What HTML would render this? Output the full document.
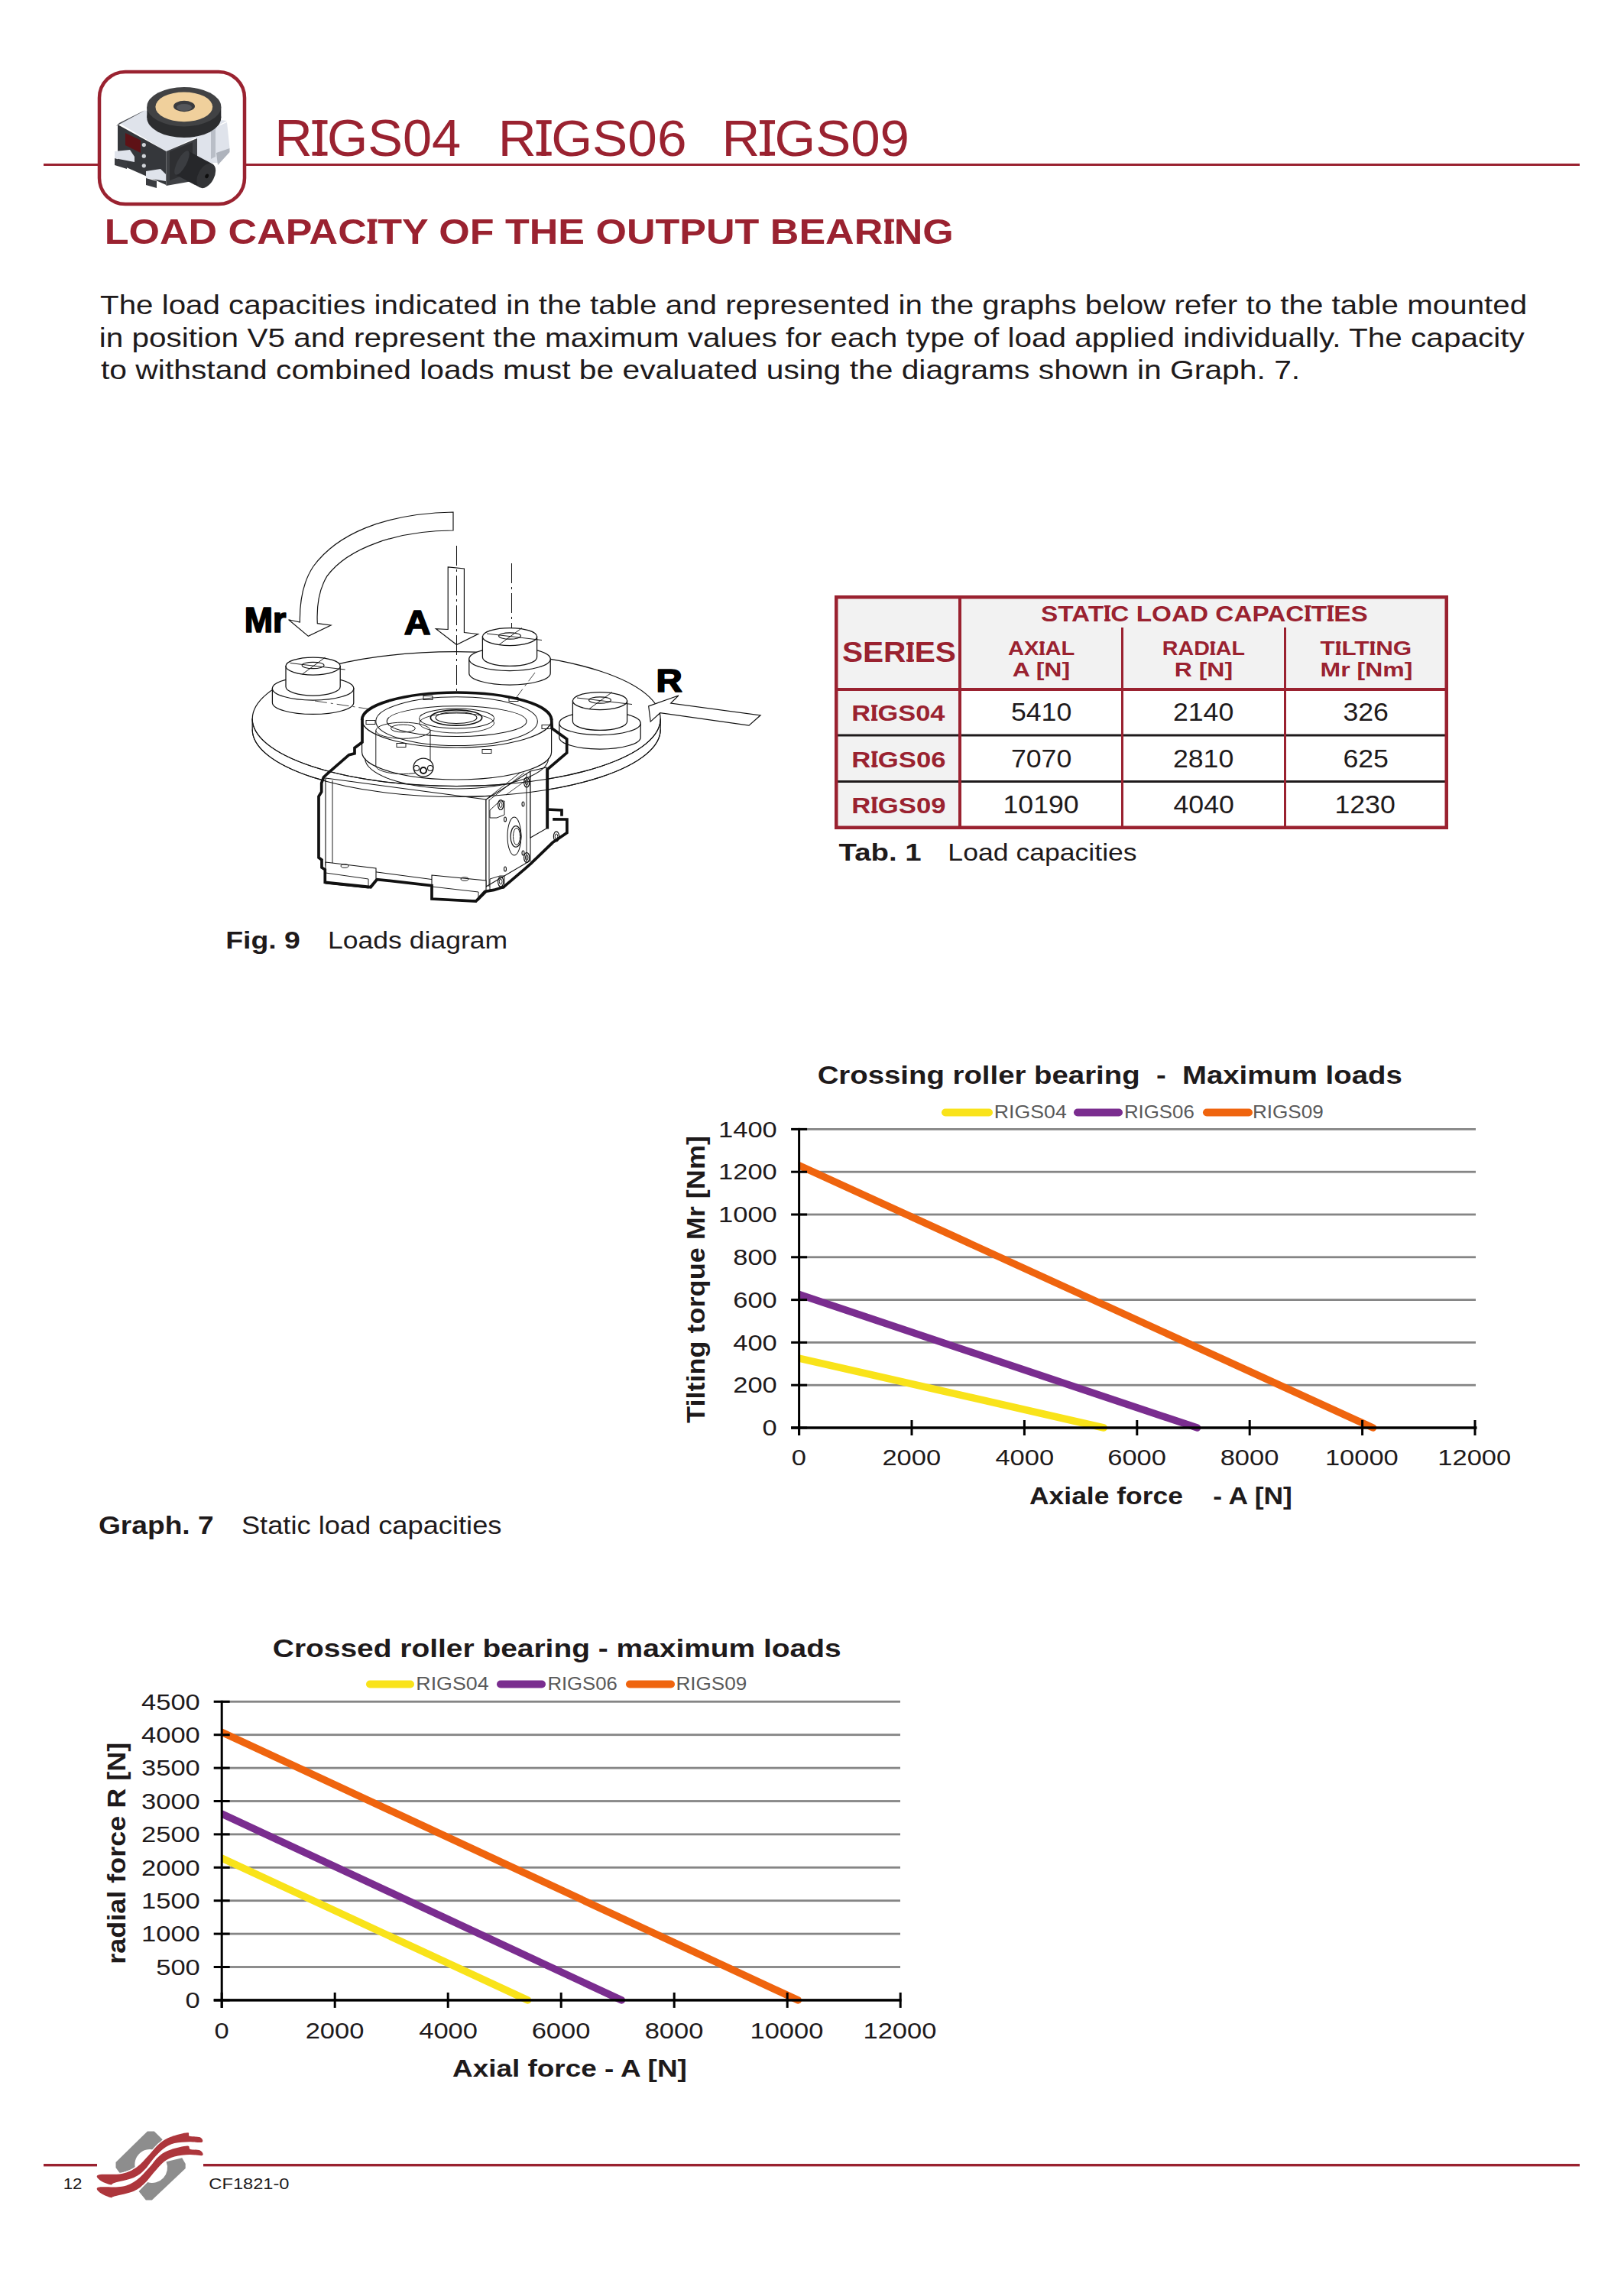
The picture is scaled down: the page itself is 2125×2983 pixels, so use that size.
<!DOCTYPE html>
<html><head><meta charset="utf-8"><title>RIGS04 RIGS06 RIGS09 - Load capacity of the output bearing</title>
<style>
html,body{margin:0;padding:0;background:#fff;}
body{width:2125px;height:2983px;overflow:hidden;position:relative;font-family:"Liberation Sans",sans-serif;}
svg{position:absolute;left:0;top:0;display:block;}
text{font-family:"Liberation Sans",sans-serif;}
</style></head>
<body>
<svg width="2125" height="2983" viewBox="0 0 2125 2983">
<rect x="57" y="214" width="2010" height="3" fill="#9a2230"/>
<rect x="130" y="94" width="190" height="173" rx="34" ry="34" fill="#fff" stroke="#9a2230" stroke-width="4.5"/>
<g id="prod">
<polygon points="256.0,178.0 297.0,160.0 300.5,194.0 285.0,213.0 256.0,213.0" fill="#dfe3eb"/>
<polygon points="276.0,170.0 282.0,168.0 282.0,205.0 276.0,208.0" fill="#b9bec7"/>
<polygon points="283.0,200.0 300.5,194.0 300.5,199.0 285.0,216.0" fill="#aeb3bc"/>
<polygon points="156.0,161.0 189.0,144.5 297.0,158.0 256.0,180.0 217.5,198.0" fill="#dfe3eb"/>
<polygon points="152.0,165.0 185.0,147.0 189.0,144.5 156.0,161.0" fill="#4a4c50"/>
<polygon points="154.0,163.0 217.5,198.0 217.5,242.0 154.0,214.0" fill="#35373b"/>
<polygon points="164.0,174.0 184.0,183.5 184.0,200.0 164.0,190.0" fill="#5e1216"/>
<circle cx="188.3" cy="189.6" r="2.6" fill="#d0d3d8"/>
<circle cx="188.3" cy="204.2" r="2.6" fill="#d0d3d8"/>
<circle cx="188.3" cy="216.8" r="2.6" fill="#d0d3d8"/>
<polygon points="150.0,198.0 170.0,196.0 176.0,205.0 176.0,212.0 150.0,207.0" fill="#dfe3eb"/>
<polygon points="150.0,207.0 166.0,212.0 166.0,221.0 150.0,216.0" fill="#3a3c40"/>
<polygon points="191.0,224.0 210.0,221.0 217.0,228.0 217.0,237.0 191.0,233.0" fill="#dfe3eb"/>
<polygon points="191.0,233.0 205.0,237.0 205.0,246.0 191.0,242.0" fill="#3a3c40"/>
<polygon points="217.5,198.0 258.0,181.0 258.0,236.0 217.5,243.0" fill="#3f4145"/>
<ellipse cx="240.8" cy="154" rx="48.5" ry="26" fill="#2c2d2f"/>
<rect x="192.3" y="139.7" width="97" height="14.3" fill="#2c2d2f"/>
<ellipse cx="240.8" cy="139.7" rx="48.5" ry="25.7" fill="#414244"/>
<ellipse cx="240.8" cy="139.8" rx="37.4" ry="19.4" fill="#f0d09c"/>
<ellipse cx="241" cy="139" rx="14" ry="7.2" fill="#3a3b3e"/>
<ellipse cx="241" cy="140.5" rx="10" ry="4.6" fill="#55575b"/>
<rect x="222" y="200" width="30" height="38" fill="#2e2f32" transform="skewY(-22) translate(0,88)"/>
<g transform="translate(238,213) rotate(28)"><rect x="0" y="-17.5" width="36" height="35" fill="#26272a"/><ellipse cx="36" cy="0" rx="10.5" ry="17.5" fill="#333437"/><ellipse cx="37" cy="0" rx="2.2" ry="3" fill="#0e0e0e"/><ellipse cx="0" cy="0" rx="6" ry="17.5" fill="#3b3d41"/></g>
</g>
<rect x="1092" y="779" width="803" height="306" fill="#fff"/>
<rect x="1092" y="779" width="803" height="123" fill="#f2f2f2"/>
<rect x="1092" y="779" width="164" height="306" fill="#f2f2f2"/>
<rect x="1092" y="960.5" width="803" height="3" fill="#1e1a1b"/>
<rect x="1092" y="1021" width="803" height="3" fill="#1e1a1b"/>
<rect x="1092" y="900" width="803" height="4" fill="#9a2230"/>
<rect x="1254" y="779" width="4" height="306" fill="#9a2230"/>
<rect x="1467" y="821" width="3" height="264" fill="#9a2230"/>
<rect x="1680" y="821" width="3" height="264" fill="#9a2230"/>
<rect x="1094.25" y="781.25" width="798.5" height="301.5" fill="none" stroke="#9a2230" stroke-width="4.5"/>
<rect x="1045.6" y="1810.80" width="885.40" height="2.8" fill="#858585"/>
<rect x="1045.6" y="1755.00" width="885.40" height="2.8" fill="#858585"/>
<rect x="1045.6" y="1699.20" width="885.40" height="2.8" fill="#858585"/>
<rect x="1045.6" y="1643.40" width="885.40" height="2.8" fill="#858585"/>
<rect x="1045.6" y="1587.60" width="885.40" height="2.8" fill="#858585"/>
<rect x="1045.6" y="1531.80" width="885.40" height="2.8" fill="#858585"/>
<rect x="1045.6" y="1476.00" width="885.40" height="2.8" fill="#858585"/>
<clipPath id="clip1045"><rect x="1044.60" y="1457.40" width="905.40" height="430.60"/></clipPath>
<line x1="1045.60" y1="1777.05" x2="1444.32" y2="1868.00" stroke="#f9e31a" stroke-width="9.5" stroke-linecap="round" clip-path="url(#clip1045)"/>
<line x1="1045.60" y1="1693.62" x2="1566.66" y2="1868.00" stroke="#7a2d8f" stroke-width="9.5" stroke-linecap="round" clip-path="url(#clip1045)"/>
<line x1="1045.60" y1="1524.83" x2="1796.60" y2="1868.00" stroke="#ef640e" stroke-width="9.5" stroke-linecap="round" clip-path="url(#clip1045)"/>
<rect x="1044.10" y="1475.90" width="3" height="402.10" fill="#000"/>
<rect x="1035.10" y="1866.25" width="897.40" height="3.5" fill="#000"/>
<rect x="1035.10" y="1866.50" width="21" height="3" fill="#000"/>
<rect x="1035.10" y="1810.70" width="21" height="3" fill="#000"/>
<rect x="1035.10" y="1754.90" width="21" height="3" fill="#000"/>
<rect x="1035.10" y="1699.10" width="21" height="3" fill="#000"/>
<rect x="1035.10" y="1643.30" width="21" height="3" fill="#000"/>
<rect x="1035.10" y="1587.50" width="21" height="3" fill="#000"/>
<rect x="1035.10" y="1531.70" width="21" height="3" fill="#000"/>
<rect x="1035.10" y="1475.90" width="21" height="3" fill="#000"/>
<rect x="1044.10" y="1858.00" width="3" height="20" fill="#000"/>
<rect x="1191.50" y="1858.00" width="3" height="20" fill="#000"/>
<rect x="1338.90" y="1858.00" width="3" height="20" fill="#000"/>
<rect x="1486.30" y="1858.00" width="3" height="20" fill="#000"/>
<rect x="1633.70" y="1858.00" width="3" height="20" fill="#000"/>
<rect x="1781.10" y="1858.00" width="3" height="20" fill="#000"/>
<rect x="1928.50" y="1858.00" width="3" height="20" fill="#000"/>
<line x1="1237" y1="1455.5" x2="1294" y2="1455.5" stroke="#f9e31a" stroke-width="10" stroke-linecap="round"/>
<line x1="1410" y1="1455.5" x2="1464" y2="1455.5" stroke="#7a2d8f" stroke-width="10" stroke-linecap="round"/>
<line x1="1579" y1="1455.5" x2="1634" y2="1455.5" stroke="#ef640e" stroke-width="10" stroke-linecap="round"/>
<rect x="290.2" y="2572.10" width="887.80" height="2.8" fill="#858585"/>
<rect x="290.2" y="2528.70" width="887.80" height="2.8" fill="#858585"/>
<rect x="290.2" y="2485.30" width="887.80" height="2.8" fill="#858585"/>
<rect x="290.2" y="2441.90" width="887.80" height="2.8" fill="#858585"/>
<rect x="290.2" y="2398.50" width="887.80" height="2.8" fill="#858585"/>
<rect x="290.2" y="2355.10" width="887.80" height="2.8" fill="#858585"/>
<rect x="290.2" y="2311.70" width="887.80" height="2.8" fill="#858585"/>
<rect x="290.2" y="2268.30" width="887.80" height="2.8" fill="#858585"/>
<rect x="290.2" y="2224.90" width="887.80" height="2.8" fill="#858585"/>
<clipPath id="clip290"><rect x="289.20" y="2206.30" width="907.80" height="430.60"/></clipPath>
<line x1="290.20" y1="2431.15" x2="690.54" y2="2616.90" stroke="#f9e31a" stroke-width="9.5" stroke-linecap="round" clip-path="url(#clip290)"/>
<line x1="290.20" y1="2372.99" x2="813.38" y2="2616.90" stroke="#7a2d8f" stroke-width="9.5" stroke-linecap="round" clip-path="url(#clip290)"/>
<line x1="290.20" y1="2266.23" x2="1044.26" y2="2616.90" stroke="#ef640e" stroke-width="9.5" stroke-linecap="round" clip-path="url(#clip290)"/>
<rect x="288.70" y="2224.80" width="3" height="402.10" fill="#000"/>
<rect x="279.70" y="2615.15" width="899.80" height="3.5" fill="#000"/>
<rect x="279.70" y="2615.40" width="21" height="3" fill="#000"/>
<rect x="279.70" y="2572.00" width="21" height="3" fill="#000"/>
<rect x="279.70" y="2528.60" width="21" height="3" fill="#000"/>
<rect x="279.70" y="2485.20" width="21" height="3" fill="#000"/>
<rect x="279.70" y="2441.80" width="21" height="3" fill="#000"/>
<rect x="279.70" y="2398.40" width="21" height="3" fill="#000"/>
<rect x="279.70" y="2355.00" width="21" height="3" fill="#000"/>
<rect x="279.70" y="2311.60" width="21" height="3" fill="#000"/>
<rect x="279.70" y="2268.20" width="21" height="3" fill="#000"/>
<rect x="279.70" y="2224.80" width="21" height="3" fill="#000"/>
<rect x="288.70" y="2606.90" width="3" height="20" fill="#000"/>
<rect x="436.70" y="2606.90" width="3" height="20" fill="#000"/>
<rect x="584.70" y="2606.90" width="3" height="20" fill="#000"/>
<rect x="732.70" y="2606.90" width="3" height="20" fill="#000"/>
<rect x="880.70" y="2606.90" width="3" height="20" fill="#000"/>
<rect x="1028.70" y="2606.90" width="3" height="20" fill="#000"/>
<rect x="1176.70" y="2606.90" width="3" height="20" fill="#000"/>
<line x1="484" y1="2203.5" x2="537" y2="2203.5" stroke="#f9e31a" stroke-width="10" stroke-linecap="round"/>
<line x1="655" y1="2203.5" x2="709" y2="2203.5" stroke="#7a2d8f" stroke-width="10" stroke-linecap="round"/>
<line x1="824" y1="2203.5" x2="878" y2="2203.5" stroke="#ef640e" stroke-width="10" stroke-linecap="round"/>
<rect x="57" y="2831" width="70" height="3.4" fill="#9a2230"/>
<rect x="266" y="2831" width="1801" height="3.4" fill="#9a2230"/>
<g id="logo">
<rect x="128" y="2786" width="138" height="94" fill="#fff"/>
<path d="M192.9,2788.4 L201.8,2788.4 L212.6,2799.2 L201,2812.5 A20,20 0 0 0 177,2837 L157,2843.5 L151.5,2836 L151.5,2829 Z" fill="#8d8d8d"/>
<path d="M238.2,2823.3 L242.7,2831 L242.7,2837 L198.8,2878.5 L190.9,2878.5 L181.6,2867 L193,2855 A20,20 0 0 0 217.5,2828.3 Z" fill="#8d8d8d"/>
<path d="M128.9,2845.5 C133.7,2844.1 151.0,2845.7 159.4,2844.0 C167.8,2842.3 173.2,2839.3 179.1,2835.2 C185.0,2831.1 190.0,2824.5 194.9,2819.4 C199.8,2814.3 203.9,2808.5 208.7,2804.6 C213.4,2800.7 217.3,2798.2 223.4,2795.8 C229.5,2793.4 241.0,2790.5 245.1,2790.3 C249.2,2790.1 245.3,2793.8 248.1,2794.8 C250.9,2795.8 259.2,2795.0 261.9,2796.3 C264.6,2797.6 266.6,2801.7 264.3,2802.7 C262.0,2803.7 254.1,2802.0 248.1,2802.2 C242.1,2802.4 234.2,2802.5 228.4,2804.1 C222.7,2805.7 218.2,2808.1 213.6,2811.5 C209.0,2814.9 204.9,2819.7 200.8,2824.3 C196.7,2828.9 193.3,2835.0 189.0,2839.1 C184.7,2843.2 181.8,2846.2 175.2,2849.0 C168.6,2851.8 154.7,2854.3 149.6,2855.9 C144.5,2857.5 147.7,2858.9 144.6,2858.3 C141.5,2857.7 133.4,2854.5 130.8,2852.4 C128.2,2850.3 124.1,2846.9 128.9,2845.5 Z" fill="#fff" stroke="#fff" stroke-width="3" stroke-linejoin="round"/>
<path d="M128.9,2845.5 C133.7,2844.1 151.0,2845.7 159.4,2844.0 C167.8,2842.3 173.2,2839.3 179.1,2835.2 C185.0,2831.1 190.0,2824.5 194.9,2819.4 C199.8,2814.3 203.9,2808.5 208.7,2804.6 C213.4,2800.7 217.3,2798.2 223.4,2795.8 C229.5,2793.4 241.0,2790.5 245.1,2790.3 C249.2,2790.1 245.3,2793.8 248.1,2794.8 C250.9,2795.8 259.2,2795.0 261.9,2796.3 C264.6,2797.6 266.6,2801.7 264.3,2802.7 C262.0,2803.7 254.1,2802.0 248.1,2802.2 C242.1,2802.4 234.2,2802.5 228.4,2804.1 C222.7,2805.7 218.2,2808.1 213.6,2811.5 C209.0,2814.9 204.9,2819.7 200.8,2824.3 C196.7,2828.9 193.3,2835.0 189.0,2839.1 C184.7,2843.2 181.8,2846.2 175.2,2849.0 C168.6,2851.8 154.7,2854.3 149.6,2855.9 C144.5,2857.5 147.7,2858.9 144.6,2858.3 C141.5,2857.7 133.4,2854.5 130.8,2852.4 C128.2,2850.3 124.1,2846.9 128.9,2845.5 Z" fill="#ad363c"/>
<path d="M128.9,2861.8 C133.7,2860.5 151.0,2862.5 159.4,2860.8 C167.8,2859.2 173.2,2856.0 179.1,2851.9 C185.0,2847.8 190.0,2841.4 194.9,2836.2 C199.8,2830.9 203.9,2824.3 208.7,2820.4 C213.4,2816.5 217.3,2814.6 223.4,2812.5 C229.5,2810.4 240.8,2807.7 245.1,2807.6 C249.4,2807.5 246.3,2811.0 249.1,2812.0 C251.9,2813.0 259.3,2812.2 261.9,2813.5 C264.5,2814.8 267.1,2819.0 264.8,2819.9 C262.5,2820.8 254.2,2818.7 248.1,2818.9 C242.0,2819.2 234.0,2819.8 228.4,2821.4 C222.8,2823.0 219.2,2824.7 214.6,2828.3 C210.0,2831.9 205.1,2838.2 200.8,2843.0 C196.5,2847.8 193.3,2852.9 189.0,2856.8 C184.7,2860.8 181.8,2863.9 175.2,2866.7 C168.6,2869.5 154.7,2872.2 149.6,2873.6 C144.5,2875.0 147.7,2875.9 144.6,2875.1 C141.5,2874.3 133.4,2870.9 130.8,2868.7 C128.2,2866.5 124.1,2863.1 128.9,2861.8 Z" fill="#fff" stroke="#fff" stroke-width="3" stroke-linejoin="round"/>
<path d="M128.9,2861.8 C133.7,2860.5 151.0,2862.5 159.4,2860.8 C167.8,2859.2 173.2,2856.0 179.1,2851.9 C185.0,2847.8 190.0,2841.4 194.9,2836.2 C199.8,2830.9 203.9,2824.3 208.7,2820.4 C213.4,2816.5 217.3,2814.6 223.4,2812.5 C229.5,2810.4 240.8,2807.7 245.1,2807.6 C249.4,2807.5 246.3,2811.0 249.1,2812.0 C251.9,2813.0 259.3,2812.2 261.9,2813.5 C264.5,2814.8 267.1,2819.0 264.8,2819.9 C262.5,2820.8 254.2,2818.7 248.1,2818.9 C242.0,2819.2 234.0,2819.8 228.4,2821.4 C222.8,2823.0 219.2,2824.7 214.6,2828.3 C210.0,2831.9 205.1,2838.2 200.8,2843.0 C196.5,2847.8 193.3,2852.9 189.0,2856.8 C184.7,2860.8 181.8,2863.9 175.2,2866.7 C168.6,2869.5 154.7,2872.2 149.6,2873.6 C144.5,2875.0 147.7,2875.9 144.6,2875.1 C141.5,2874.3 133.4,2870.9 130.8,2868.7 C128.2,2866.5 124.1,2863.1 128.9,2861.8 Z" fill="#ad363c"/>
</g>
<g id="fig9" fill="none" stroke-linecap="butt">
<path d="M330.20000000000005,940.5 L330.20000000000005,954.5 A267,88 0 0 0 864.2,954.5 L864.2,940.5 Z" fill="#fff" stroke="#111" stroke-width="1.25"/>
<ellipse cx="597.2" cy="940.5" rx="267.0" ry="88.0" fill="#fff" stroke="#111" stroke-width="1.25"/>
<path d="M356.4,900.7 L356.4,919.2 A53.2,15.3 0 0 0 462.8,919.2 L462.8,900.7 Z" fill="#fff" stroke="#111" stroke-width="1.25"/><ellipse cx="409.6" cy="900.7" rx="53.2" ry="15.3" fill="#fff" stroke="#111" stroke-width="1.25"/><path d="M374.0,871.5 L374.0,898.5 A35.6,11.5 0 0 0 445.2,898.5 L445.2,871.5 Z" fill="#fff" stroke="#111" stroke-width="1.25"/><ellipse cx="409.6" cy="871.5" rx="35.6" ry="11.5" fill="#fff" stroke="#111" stroke-width="1.25"/><ellipse cx="409.6" cy="870.5" rx="14.4" ry="4.2" fill="none" stroke="#111" stroke-width="1.17"/><line x1="379.6" y1="867.5" x2="451.6" y2="876.0" stroke="#111" stroke-width="0.94"/><line x1="395.6" y1="882.0" x2="425.6" y2="860.0" stroke="#111" stroke-width="0.94"/>
<path d="M613.8,862.2 L613.8,880.7 A53.2,15.3 0 0 0 720.2,880.7 L720.2,862.2 Z" fill="#fff" stroke="#111" stroke-width="1.25"/><ellipse cx="667.0" cy="862.2" rx="53.2" ry="15.3" fill="#fff" stroke="#111" stroke-width="1.25"/><path d="M631.4,833.0 L631.4,860.0 A35.6,11.5 0 0 0 702.6,860.0 L702.6,833.0 Z" fill="#fff" stroke="#111" stroke-width="1.25"/><ellipse cx="667.0" cy="833.0" rx="35.6" ry="11.5" fill="#fff" stroke="#111" stroke-width="1.25"/><ellipse cx="667.0" cy="832.0" rx="14.4" ry="4.2" fill="none" stroke="#111" stroke-width="1.17"/><line x1="637.0" y1="829.0" x2="709.0" y2="837.5" stroke="#111" stroke-width="0.94"/><line x1="653.0" y1="843.5" x2="683.0" y2="821.5" stroke="#111" stroke-width="0.94"/>
<path d="M731.8,946.2 L731.8,964.7 A53.2,15.3 0 0 0 838.2,964.7 L838.2,946.2 Z" fill="#fff" stroke="#111" stroke-width="1.25"/><ellipse cx="785.0" cy="946.2" rx="53.2" ry="15.3" fill="#fff" stroke="#111" stroke-width="1.25"/><path d="M749.4,917.0 L749.4,944.0 A35.6,11.5 0 0 0 820.6,944.0 L820.6,917.0 Z" fill="#fff" stroke="#111" stroke-width="1.25"/><ellipse cx="785.0" cy="917.0" rx="35.6" ry="11.5" fill="#fff" stroke="#111" stroke-width="1.25"/><ellipse cx="785.0" cy="916.0" rx="14.4" ry="4.2" fill="none" stroke="#111" stroke-width="1.17"/><line x1="755.0" y1="913.0" x2="827.0" y2="921.5" stroke="#111" stroke-width="0.94"/><line x1="771.0" y1="927.5" x2="801.0" y2="905.5" stroke="#111" stroke-width="0.94"/>
<line x1="597.5" y1="714.0" x2="597.5" y2="942.0" stroke="#111" stroke-width="1.01" stroke-dasharray="26,5,3,5"/>
<line x1="669.5" y1="737.0" x2="669.5" y2="822.0" stroke="#111" stroke-width="1.01" stroke-dasharray="26,5,3,5"/>
<line x1="700.0" y1="880.0" x2="610.0" y2="1000.0" stroke="#111" stroke-width="0.78" stroke-dasharray="14,5,3,5"/>
<line x1="412.0" y1="917.0" x2="492.0" y2="929.0" stroke="#111" stroke-width="0.78" stroke-dasharray="16,5,3,5"/>
<path d="M426.0,1018.0 L636.0,1046.0 L636.0,1160.0 L426.0,1132.0 Z" fill="#fff" stroke="#111" stroke-width="1.09" stroke-linejoin="miter"/>
<path d="M636.0,1046.0 L694.0,1009.0 L694.0,1126.0 L636.0,1160.0 Z" fill="#fff" stroke="#111" stroke-width="1.09" stroke-linejoin="miter"/>
<path d="M694.0,1009.0 L715.0,1004.0 L715.0,1084.0 L694.0,1096.0 Z" fill="#fff" stroke="#111" stroke-width="1.09" stroke-linejoin="miter"/>
<line x1="640.0" y1="1046.0" x2="640.0" y2="1160.0" stroke="#111" stroke-width="0.94"/>
<line x1="689.0" y1="1012.0" x2="689.0" y2="1128.0" stroke="#111" stroke-width="0.94"/>
<line x1="435.0" y1="1021.0" x2="435.0" y2="1133.0" stroke="#111" stroke-width="0.94"/>
<path d="M426.0,1128.0 L492.0,1136.0 L492.0,1150.0 L482.0,1162.0 L426.0,1156.0 Z" fill="#fff" stroke="#111" stroke-width="1.09" stroke-linejoin="miter"/>
<line x1="426.0" y1="1142.0" x2="482.0" y2="1150.0" stroke="#111" stroke-width="0.94"/>
<line x1="482.0" y1="1150.0" x2="482.0" y2="1162.0" stroke="#111" stroke-width="0.94"/>
<path d="M565.0,1145.0 L636.0,1152.0 L636.0,1168.0 L626.0,1178.0 L565.0,1176.0 Z" fill="#fff" stroke="#111" stroke-width="1.09" stroke-linejoin="miter"/>
<line x1="565.0" y1="1160.0" x2="626.0" y2="1167.0" stroke="#111" stroke-width="0.94"/>
<line x1="626.0" y1="1167.0" x2="626.0" y2="1178.0" stroke="#111" stroke-width="0.94"/>
<ellipse cx="451.0" cy="1133.0" rx="5.0" ry="2.2" fill="none" stroke="#111" stroke-width="0.94"/>
<ellipse cx="608.0" cy="1150.0" rx="5.0" ry="2.2" fill="none" stroke="#111" stroke-width="0.94"/>
<path d="M716.3,1059.0 L735.0,1060.0 L735.0,1067.8" fill="none" stroke="#111" stroke-width="3.70" stroke-linejoin="miter"/>
<ellipse cx="672.9" cy="1094.0" rx="8.9" ry="25.0" fill="none" stroke="#111" stroke-width="1.01"/>
<ellipse cx="675.0" cy="1094.4" rx="6.9" ry="13.8" fill="none" stroke="#111" stroke-width="1.25"/>
<ellipse cx="676.0" cy="1094.4" rx="4.5" ry="11.0" fill="none" stroke="#111" stroke-width="0.94"/>
<ellipse cx="655.2" cy="1053.0" rx="3.6" ry="6.5" fill="none" stroke="#111" stroke-width="1.17"/>
<ellipse cx="655.2" cy="1053.0" rx="1.8" ry="3.5" fill="none" stroke="#111" stroke-width="0.94"/>
<ellipse cx="689.2" cy="1023.5" rx="3.6" ry="6.5" fill="none" stroke="#111" stroke-width="1.17"/>
<ellipse cx="689.2" cy="1023.5" rx="1.8" ry="3.5" fill="none" stroke="#111" stroke-width="0.94"/>
<ellipse cx="689.2" cy="1122.0" rx="3.6" ry="6.5" fill="none" stroke="#111" stroke-width="1.17"/>
<ellipse cx="689.2" cy="1122.0" rx="1.8" ry="3.5" fill="none" stroke="#111" stroke-width="0.94"/>
<ellipse cx="655.2" cy="1153.5" rx="3.6" ry="6.5" fill="none" stroke="#111" stroke-width="1.17"/>
<ellipse cx="655.2" cy="1153.5" rx="1.8" ry="3.5" fill="none" stroke="#111" stroke-width="0.94"/>
<ellipse cx="728.0" cy="1094.4" rx="3.6" ry="6.5" fill="none" stroke="#111" stroke-width="1.17"/>
<ellipse cx="728.0" cy="1094.4" rx="1.8" ry="3.5" fill="none" stroke="#111" stroke-width="0.94"/>
<ellipse cx="684.5" cy="1052.0" rx="1.5" ry="3.0" fill="none" stroke="#111" stroke-width="1.09"/>
<ellipse cx="661.0" cy="1072.0" rx="1.5" ry="3.0" fill="none" stroke="#111" stroke-width="1.09"/>
<ellipse cx="684.5" cy="1116.0" rx="1.5" ry="3.0" fill="none" stroke="#111" stroke-width="1.09"/>
<ellipse cx="661.0" cy="1137.0" rx="1.5" ry="3.0" fill="none" stroke="#111" stroke-width="1.09"/>
<path d="M641.0,1060.0 L654.0,1048.0 L660.0,1048.0 L660.0,1066.0 L650.0,1070.0 L641.0,1070.0 Z" fill="none" stroke="#111" stroke-width="0.94" stroke-linejoin="miter"/>
<path d="M641.0,1150.0 L654.0,1146.0 L660.0,1146.0 L660.0,1162.0 L641.0,1164.0 Z" fill="none" stroke="#111" stroke-width="0.94" stroke-linejoin="miter"/>
<line x1="636.0" y1="1046.0" x2="683.0" y2="1009.0" stroke="#111" stroke-width="0.86"/>
<line x1="640.0" y1="1047.0" x2="686.0" y2="1011.0" stroke="#111" stroke-width="0.86"/>
<line x1="662.0" y1="1040.0" x2="695.0" y2="1016.0" stroke="#111" stroke-width="0.78"/>
<path d="M330.20000000000005,940.5 A267,88 0 0 0 864.2,940.5" fill="none" stroke="#111" stroke-width="1.01"/>
<path d="M330.20000000000005,954.5 A267,88 0 0 0 864.2,954.5" fill="none" stroke="#111" stroke-width="1.01"/>
<path d="M473.6,942 L473.6,984 A124,36 0 0 0 721.6,984 L721.6,942 Z" fill="#fff" stroke="#111" stroke-width="1.17"/>
<ellipse cx="597.6" cy="942.0" rx="124.0" ry="36.0" fill="#fff" stroke="#111" stroke-width="1.17"/>
<ellipse cx="597.6" cy="943.7" rx="105.8" ry="31.9" fill="none" stroke="#111" stroke-width="1.01"/>
<ellipse cx="597.6" cy="943.7" rx="91.4" ry="19.9" fill="none" stroke="#111" stroke-width="1.01"/>
<ellipse cx="597.6" cy="940.0" rx="49.0" ry="13.0" fill="none" stroke="#111" stroke-width="1.01"/>
<ellipse cx="597.6" cy="946.0" rx="49.0" ry="13.0" fill="none" stroke="#111" stroke-width="0.86"/>
<ellipse cx="597.0" cy="939.0" rx="33.7" ry="10.2" fill="none" stroke="#111" stroke-width="1.72"/>
<ellipse cx="597.0" cy="939.0" rx="27.0" ry="7.5" fill="none" stroke="#111" stroke-width="1.09"/>
<path d="M477.6,992 A120,40 0 0 0 717.6,992" stroke="#111" stroke-width="1.01"/>
<path d="M491.8,955.7 L491.8,1002 A35.6,10.6 0 0 0 563,1002 L563,955.7" fill="none" stroke="#111" stroke-width="0.94"/>
<ellipse cx="527.4" cy="955.7" rx="35.6" ry="10.6" fill="none" stroke="#111" stroke-width="0.94"/>
<ellipse cx="527.4" cy="953.0" rx="16.0" ry="5.0" fill="none" stroke="#111" stroke-width="0.94"/>
<ellipse cx="554.0" cy="1004.0" rx="13.0" ry="12.0" fill="#fff" stroke="#111" stroke-width="1.25"/>
<ellipse cx="545.0" cy="1005.0" rx="3.5" ry="3.5" fill="none" stroke="#111" stroke-width="1.09"/>
<ellipse cx="563.0" cy="1005.0" rx="3.5" ry="3.5" fill="none" stroke="#111" stroke-width="1.09"/>
<ellipse cx="554.0" cy="1008.0" rx="4.0" ry="4.0" fill="none" stroke="#111" stroke-width="1.95"/>
<rect x="554" y="910.5" width="12" height="5" fill="none" stroke="#111" stroke-width="0.94"/>
<rect x="666" y="912.5" width="12" height="5" fill="none" stroke="#111" stroke-width="0.94"/>
<rect x="479" y="942.5" width="12" height="5" fill="none" stroke="#111" stroke-width="0.94"/>
<rect x="709" y="948.5" width="12" height="5" fill="none" stroke="#111" stroke-width="0.94"/>
<rect x="519" y="972.5" width="12" height="5" fill="none" stroke="#111" stroke-width="0.94"/>
<rect x="631" y="980.5" width="12" height="5" fill="none" stroke="#111" stroke-width="0.94"/>
<path d="M473.6,942 A124,36 0 0 1 721.6,942" stroke="#111" stroke-width="3.7" fill="none"/>
<path d="M474.0,940.0 L474.0,971.0 L464.0,978.4 L464.0,985.8 L456.6,987.6 L428.0,1012.5 L423.4,1017.0 L420.7,1024.5 L420.7,1036.0 L417.0,1042.0 L417.0,1122.0 L421.0,1125.0 L421.0,1135.0 L425.3,1137.7 L425.3,1154.3 L485.1,1160.7 L493.4,1150.6 L565.0,1158.6 L565.0,1176.0 L622.7,1179.2 L634.5,1166.4 L646.3,1164.4 L659.1,1160.4 L686.7,1136.8 L694.6,1129.9 L723.2,1102.3 L741.9,1089.5 L741.9,1072.0 L723.2,1071.8" fill="none" stroke="#111" stroke-width="3.70" stroke-linejoin="miter"/>
<path d="M721.6,940.0 L722.3,953.0 L741.7,967.0 L741.7,985.0 L716.3,1006.7 L716.3,1084.6" fill="none" stroke="#111" stroke-width="3.70" stroke-linejoin="miter"/>
<path d="M593,670 C500,672 440,700 410,741 C396,762 392,790 392.4,814 L377.6,810.7 L403.4,832.4 L433,818 L415.3,815.7 C414,790 418,770 428,753.6 C455,717 520,694 593,694 Z" fill="#fff" stroke="#111" stroke-width="1.17" stroke-linejoin="miter"/>
<path d="M586.2,741.8 L607.4,744.0 L607.4,827.5 L625.6,829.5 L597.5,843.5 L570.4,822.6 L586.2,823.5 Z" fill="#fff" stroke="#111" stroke-width="1.17" stroke-linejoin="miter"/>
<line x1="597.5" y1="714.0" x2="597.5" y2="843.0" stroke="#111" stroke-width="1.01" stroke-dasharray="26,5,3,5"/>
<path d="M848.7,923.9 L887.8,910.0 L877.7,920.1 L995.1,935.8 L980.0,949.1 L863.8,932.7 L851.2,944.1 Z" fill="#fff" stroke="#111" stroke-width="1.17" stroke-linejoin="miter"/>
</g>
<text font-family="Liberation Sans" font-weight="bold" fill="#000" stroke="#000" stroke-width="1.72" stroke-linejoin="round" transform="translate(319.8,826.5) scale(0.972,1)" font-size="46">Mr</text>
<text font-family="Liberation Sans" font-weight="bold" fill="#000" stroke="#000" stroke-width="1.72" stroke-linejoin="round" transform="translate(528.7,830) scale(1.07,1)" font-size="45">A</text>
<text font-family="Liberation Sans" font-weight="bold" fill="#000" stroke="#000" stroke-width="1.72" stroke-linejoin="round" transform="translate(858.6,904.7) scale(1.129,1)" font-size="42">R</text>
<rect x="408.48" y="157.20" width="20.00" height="5.02" fill="#9a2230"/>
<rect x="408.48" y="198.68" width="20.00" height="5.02" fill="#9a2230"/>
<text transform="translate(359.33,203.70) scale(1.0145,1)" font-size="67.59" fill="#9a2230">RIGS04</text>
<rect x="701.68" y="157.20" width="20.00" height="5.02" fill="#9a2230"/>
<rect x="701.68" y="198.68" width="20.00" height="5.02" fill="#9a2230"/>
<text transform="translate(651.87,203.70) scale(1.0258,1)" font-size="67.59" fill="#9a2230">RIGS06</text>
<rect x="994.03" y="157.20" width="20.00" height="5.02" fill="#9a2230"/>
<rect x="994.03" y="198.68" width="20.00" height="5.02" fill="#9a2230"/>
<text transform="translate(944.49,203.70) scale(1.0210,1)" font-size="67.59" fill="#9a2230">RIGS09</text>
<rect x="480.64" y="286.60" width="12.80" height="3.84" fill="#9a2230"/>
<rect x="480.64" y="314.76" width="12.80" height="3.84" fill="#9a2230"/>
<rect x="1157.09" y="286.60" width="12.80" height="3.84" fill="#9a2230"/>
<rect x="1157.09" y="314.76" width="12.80" height="3.84" fill="#9a2230"/>
<text transform="translate(136.74,318.60) scale(1.1190,1)" font-size="46.51" font-weight="bold" fill="#9a2230">LOAD CAPACITY OF THE OUTPUT BEARING</text>
<text transform="translate(131.00,410.60) scale(1.1201,1)" font-size="36.00" fill="#1e1a1b">The load capacities indicated in the table and represented in the graphs below refer to the table mounted</text>
<text transform="translate(129.75,453.70) scale(1.1254,1)" font-size="36.00" fill="#1e1a1b">in position V5 and represent the maximum values for each type of load applied individually. The capacity</text>
<text transform="translate(132.00,495.60) scale(1.1333,1)" font-size="36.00" fill="#1e1a1b">to withstand combined loads must be evaluated using the diagrams shown in Graph. 7.</text>
<text transform="translate(295.20,1240.90) scale(1.1979,1)" font-size="31.25" font-weight="bold" fill="#1e1a1b">Fig. 9</text>
<text transform="translate(429.02,1240.90) scale(1.1382,1)" font-size="31.25" fill="#1e1a1b">Loads diagram</text>
<text transform="translate(1097.60,1126.00) scale(1.2003,1)" font-size="31.98" font-weight="bold" fill="#1e1a1b">Tab. 1</text>
<text transform="translate(1240.37,1126.00) scale(1.1128,1)" font-size="31.98" fill="#1e1a1b">Load capacities</text>
<text transform="translate(128.89,2007.40) scale(1.1120,1)" font-size="33.43" font-weight="bold" fill="#1e1a1b">Graph. 7</text>
<text transform="translate(315.92,2007.40) scale(1.0847,1)" font-size="33.43" fill="#1e1a1b">Static load capacities</text>
<rect x="1444.91" y="792.00" width="8.28" height="2.48" fill="#9a2230"/>
<rect x="1444.91" y="810.22" width="8.28" height="2.48" fill="#9a2230"/>
<rect x="1707.19" y="792.00" width="8.28" height="2.48" fill="#9a2230"/>
<rect x="1707.19" y="810.22" width="8.28" height="2.48" fill="#9a2230"/>
<rect x="1736.81" y="792.00" width="8.28" height="2.48" fill="#9a2230"/>
<rect x="1736.81" y="810.22" width="8.28" height="2.48" fill="#9a2230"/>
<text transform="translate(1362.00,812.70) scale(1.1080,1)" font-size="30.09" font-weight="bold" fill="#9a2230">STATIC LOAD CAPACITIES</text>
<rect x="1185.99" y="840.60" width="10.00" height="3.00" fill="#9a2230"/>
<rect x="1185.99" y="862.60" width="10.00" height="3.00" fill="#9a2230"/>
<text transform="translate(1101.88,865.60) scale(1.1182,1)" font-size="36.34" font-weight="bold" fill="#9a2230">SERIES</text>
<rect x="1360.07" y="839.70" width="6.88" height="2.06" fill="#9a2230"/>
<rect x="1360.07" y="854.84" width="6.88" height="2.06" fill="#9a2230"/>
<text transform="translate(1319.00,856.90) scale(1.1642,1)" font-size="25.00" font-weight="bold" fill="#9a2230">AXIAL</text>
<rect x="1583.46" y="839.70" width="6.88" height="2.06" fill="#9a2230"/>
<rect x="1583.46" y="854.84" width="6.88" height="2.06" fill="#9a2230"/>
<text transform="translate(1520.85,856.90) scale(1.1453,1)" font-size="25.00" font-weight="bold" fill="#9a2230">RADIAL</text>
<rect x="1747.73" y="839.70" width="6.88" height="2.06" fill="#9a2230"/>
<rect x="1747.73" y="854.84" width="6.88" height="2.06" fill="#9a2230"/>
<rect x="1792.47" y="839.70" width="6.88" height="2.06" fill="#9a2230"/>
<rect x="1792.47" y="854.84" width="6.88" height="2.06" fill="#9a2230"/>
<text transform="translate(1727.60,856.90) scale(1.2555,1)" font-size="25.00" font-weight="bold" fill="#9a2230">TILTING</text>
<text transform="translate(1324.80,885.30) scale(1.2813,1)" font-size="25.00" font-weight="bold" fill="#9a2230">A [N]</text>
<text transform="translate(1536.72,885.30) scale(1.2792,1)" font-size="25.00" font-weight="bold" fill="#9a2230">R [N]</text>
<text transform="translate(1727.62,885.30) scale(1.2789,1)" font-size="25.00" font-weight="bold" fill="#9a2230">Mr [Nm]</text>
<rect x="1139.98" y="922.20" width="8.32" height="2.50" fill="#9a2230"/>
<rect x="1139.98" y="940.50" width="8.32" height="2.50" fill="#9a2230"/>
<text transform="translate(1114.23,943.00) scale(1.1364,1)" font-size="30.23" font-weight="bold" fill="#9a2230">RIGS04</text>
<rect x="1140.24" y="982.70" width="8.32" height="2.50" fill="#9a2230"/>
<rect x="1140.24" y="1001.00" width="8.32" height="2.50" fill="#9a2230"/>
<text transform="translate(1114.21,1003.50) scale(1.1472,1)" font-size="30.23" font-weight="bold" fill="#9a2230">RIGS06</text>
<rect x="1140.24" y="1042.70" width="8.32" height="2.50" fill="#9a2230"/>
<rect x="1140.24" y="1061.00" width="8.32" height="2.50" fill="#9a2230"/>
<text transform="translate(1114.21,1063.50) scale(1.1472,1)" font-size="30.23" font-weight="bold" fill="#9a2230">RIGS09</text>
<text transform="translate(1322.93,943.00) scale(1.0820,1)" font-size="33.00" fill="#1e1a1b">5410</text>
<text transform="translate(1534.93,943.00) scale(1.0820,1)" font-size="33.00" fill="#1e1a1b">2140</text>
<text transform="translate(1757.40,943.00) scale(1.0820,1)" font-size="33.00" fill="#1e1a1b">326</text>
<text transform="translate(1322.93,1003.50) scale(1.0820,1)" font-size="33.00" fill="#1e1a1b">7070</text>
<text transform="translate(1534.93,1003.50) scale(1.0820,1)" font-size="33.00" fill="#1e1a1b">2810</text>
<text transform="translate(1757.40,1003.50) scale(1.0820,1)" font-size="33.00" fill="#1e1a1b">625</text>
<text transform="translate(1312.46,1063.50) scale(1.0820,1)" font-size="33.00" fill="#1e1a1b">10190</text>
<text transform="translate(1535.48,1063.50) scale(1.0820,1)" font-size="33.00" fill="#1e1a1b">4040</text>
<text transform="translate(1746.39,1063.50) scale(1.0820,1)" font-size="33.00" fill="#1e1a1b">1230</text>
<text transform="translate(997.60,1878.20) scale(1.1500,1)" font-size="30.00" fill="#1e1a1b">0</text>
<text transform="translate(959.23,1822.40) scale(1.1500,1)" font-size="30.00" fill="#1e1a1b">200</text>
<text transform="translate(959.23,1766.60) scale(1.1500,1)" font-size="30.00" fill="#1e1a1b">400</text>
<text transform="translate(959.23,1710.80) scale(1.1500,1)" font-size="30.00" fill="#1e1a1b">600</text>
<text transform="translate(959.23,1655.00) scale(1.1500,1)" font-size="30.00" fill="#1e1a1b">800</text>
<text transform="translate(940.04,1599.20) scale(1.1500,1)" font-size="30.00" fill="#1e1a1b">1000</text>
<text transform="translate(940.04,1543.40) scale(1.1500,1)" font-size="30.00" fill="#1e1a1b">1200</text>
<text transform="translate(940.04,1487.60) scale(1.1500,1)" font-size="30.00" fill="#1e1a1b">1400</text>
<text transform="translate(1035.82,1917.00) scale(1.1500,1)" font-size="30.00" fill="#1e1a1b">0</text>
<text transform="translate(1154.44,1917.00) scale(1.1500,1)" font-size="30.00" fill="#1e1a1b">2000</text>
<text transform="translate(1302.42,1917.00) scale(1.1500,1)" font-size="30.00" fill="#1e1a1b">4000</text>
<text transform="translate(1449.24,1917.00) scale(1.1500,1)" font-size="30.00" fill="#1e1a1b">6000</text>
<text transform="translate(1596.64,1917.00) scale(1.1500,1)" font-size="30.00" fill="#1e1a1b">8000</text>
<text transform="translate(1733.88,1917.00) scale(1.1500,1)" font-size="30.00" fill="#1e1a1b">10000</text>
<text transform="translate(1881.28,1917.00) scale(1.1500,1)" font-size="30.00" fill="#1e1a1b">12000</text>
<text transform="translate(1069.63,1418.40) scale(1.1679,1)" font-size="32.85" font-weight="bold" fill="#1e1a1b" style="white-space:pre">Crossing roller bearing  -  Maximum loads</text>
<text transform="translate(1300.84,1463.30) scale(1.0813,1)" font-size="24.71" fill="#595959">RIGS04</text>
<text transform="translate(1470.91,1463.30) scale(1.0460,1)" font-size="24.71" fill="#595959">RIGS06</text>
<text transform="translate(1638.88,1463.30) scale(1.0577,1)" font-size="24.71" fill="#595959">RIGS09</text>
<text transform="translate(1347.00,1968.00) scale(1.1341,1)" font-size="31.25" font-weight="bold" fill="#1e1a1b" style="white-space:pre">Axiale force    - A [N]</text>
<text transform="translate(921.50,1862.00) rotate(-90) scale(1.0998,1)" font-size="32.80" font-weight="bold" fill="#1e1a1b">Tilting torque Mr [Nm]</text>
<text transform="translate(242.60,2627.10) scale(1.1500,1)" font-size="30.00" fill="#1e1a1b">0</text>
<text transform="translate(204.23,2583.70) scale(1.1500,1)" font-size="30.00" fill="#1e1a1b">500</text>
<text transform="translate(185.04,2540.30) scale(1.1500,1)" font-size="30.00" fill="#1e1a1b">1000</text>
<text transform="translate(185.04,2496.90) scale(1.1500,1)" font-size="30.00" fill="#1e1a1b">1500</text>
<text transform="translate(185.04,2453.50) scale(1.1500,1)" font-size="30.00" fill="#1e1a1b">2000</text>
<text transform="translate(185.04,2410.10) scale(1.1500,1)" font-size="30.00" fill="#1e1a1b">2500</text>
<text transform="translate(185.04,2366.70) scale(1.1500,1)" font-size="30.00" fill="#1e1a1b">3000</text>
<text transform="translate(185.04,2323.30) scale(1.1500,1)" font-size="30.00" fill="#1e1a1b">3500</text>
<text transform="translate(185.04,2279.90) scale(1.1500,1)" font-size="30.00" fill="#1e1a1b">4000</text>
<text transform="translate(185.04,2236.50) scale(1.1500,1)" font-size="30.00" fill="#1e1a1b">4500</text>
<text transform="translate(280.43,2666.50) scale(1.1500,1)" font-size="30.00" fill="#1e1a1b">0</text>
<text transform="translate(399.64,2666.50) scale(1.1500,1)" font-size="30.00" fill="#1e1a1b">2000</text>
<text transform="translate(548.22,2666.50) scale(1.1500,1)" font-size="30.00" fill="#1e1a1b">4000</text>
<text transform="translate(695.64,2666.50) scale(1.1500,1)" font-size="30.00" fill="#1e1a1b">6000</text>
<text transform="translate(843.64,2666.50) scale(1.1500,1)" font-size="30.00" fill="#1e1a1b">8000</text>
<text transform="translate(981.48,2666.50) scale(1.1500,1)" font-size="30.00" fill="#1e1a1b">10000</text>
<text transform="translate(1129.48,2666.50) scale(1.1500,1)" font-size="30.00" fill="#1e1a1b">12000</text>
<text transform="translate(356.81,2167.50) scale(1.1850,1)" font-size="32.85" font-weight="bold" fill="#1e1a1b" style="white-space:pre">Crossed roller bearing - maximum loads</text>
<text transform="translate(544.33,2211.30) scale(1.0836,1)" font-size="24.71" fill="#595959">RIGS04</text>
<text transform="translate(716.42,2211.30) scale(1.0401,1)" font-size="24.71" fill="#595959">RIGS06</text>
<text transform="translate(884.49,2211.30) scale(1.0554,1)" font-size="24.71" fill="#595959">RIGS09</text>
<text transform="translate(592.00,2716.50) scale(1.1810,1)" font-size="31.25" font-weight="bold" fill="#1e1a1b" style="white-space:pre">Axial force - A [N]</text>
<text transform="translate(163.60,2569.69) rotate(-90) scale(1.0973,1)" font-size="32.80" font-weight="bold" fill="#1e1a1b">radial force R [N]</text>
<text transform="translate(82.72,2863.70) scale(1.0805,1)" font-size="20.64" fill="#1e1a1b">12</text>
<text transform="translate(273.35,2863.70) scale(1.1469,1)" font-size="20.64" fill="#1e1a1b">CF1821-0</text>
</svg>
</body></html>
